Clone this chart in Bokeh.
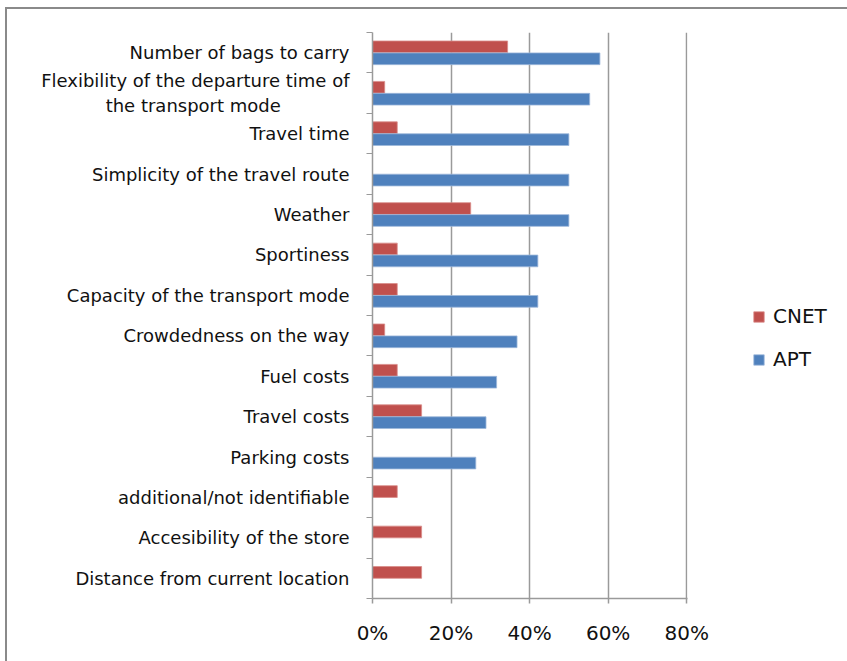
from bokeh.plotting import figure
from bokeh.models import (ColumnDataSource, FixedTicker, NumeralTickFormatter,
                          Legend, LegendItem, Range1d)
from bokeh.embed import file_html
from bokeh.resources import INLINE

categories = [
    "Number of bags to carry",
    "Flexibility of the departure time of\nthe transport mode" + "\u00a0" * 12,
    "Travel time",
    "Simplicity of the travel route",
    "Weather",
    "Sportiness",
    "Capacity of the transport mode",
    "Crowdedness on the way",
    "Fuel costs",
    "Travel costs",
    "Parking costs",
    "additional/not identifiable",
    "Accesibility of the store",
    "Distance from current location",
]
cnet = [0.344, 0.031, 0.063, 0.0, 0.25, 0.063, 0.063, 0.031, 0.063, 0.125, 0.0, 0.063, 0.125, 0.125]
apt = [0.579, 0.553, 0.50, 0.50, 0.50, 0.421, 0.421, 0.368, 0.316, 0.289, 0.263, 0.0, 0.0, 0.0]
x_ticks = [0, 0.2, 0.4, 0.6, 0.8]

n = len(categories)
centers = [n - 1 - i for i in range(n)]
bounds = [c - 0.5 for c in range(n + 1)]

src = ColumnDataSource(dict(
    y_c=[c + 0.145 for c in centers],
    y_a=[c - 0.15 for c in centers],
    cnet=cnet, apt=apt,
))

p = figure(frame_width=315, frame_height=566, output_backend="svg", toolbar_location=None,
           x_range=Range1d(0, 0.802), y_range=Range1d(-0.5, n - 0.5),
           min_border_left=365, min_border_right=10, min_border_top=23,
           min_border_bottom=63)
p.margin = (7, 0, 0, 5)
p.styles = {"border-left": "2px solid #8a8a8a", "border-top": "2px solid #8a8a8a"}
p.outline_line_color = None
p.background_fill_color = "white"
p.border_fill_color = "white"

r_c = p.hbar(y="y_c", right="cnet", left=0, height=0.29, source=src,
             fill_color="#C0504D", line_color="#D98B89", line_width=0.8)
r_a = p.hbar(y="y_a", right="apt", left=0, height=0.29, source=src,
             fill_color="#4F81BD", line_color="#9DB8DA", line_width=0.8)

# x axis
p.xaxis.ticker = FixedTicker(ticks=x_ticks)
p.xaxis.formatter = NumeralTickFormatter(format="0%")
p.xaxis.axis_line_color = "#9a9a9a"
p.xaxis.axis_line_width = 1.5
p.xaxis.major_tick_line_color = "#9a9a9a"
p.xaxis.major_tick_line_width = 1.5
p.xaxis.major_tick_out = 5
p.xaxis.major_tick_in = 0
p.xaxis.minor_tick_line_color = None
p.xaxis.major_label_text_font = "DejaVu Sans"
p.xaxis.major_label_text_font_size = "20px"
p.xaxis.major_label_text_color = "#111111"
p.xaxis.major_label_standoff = 17

# y axis
p.yaxis.ticker = FixedTicker(ticks=centers, minor_ticks=bounds)
p.yaxis.major_label_overrides = {c: categories[i] for i, c in enumerate(centers)}
p.yaxis.axis_line_color = "#9a9a9a"
p.yaxis.axis_line_width = 1.5
p.yaxis.major_tick_line_color = None
p.yaxis.major_tick_out = 0
p.yaxis.major_tick_in = 0
p.yaxis.minor_tick_line_color = "#9a9a9a"
p.yaxis.minor_tick_line_width = 1.2
p.yaxis.minor_tick_out = 6
p.yaxis.minor_tick_in = 0
p.yaxis.major_label_text_font = "DejaVu Sans"
p.yaxis.major_label_text_font_size = "18px"
p.yaxis.major_label_text_color = "#111111"
p.yaxis.major_label_standoff = 17

p.xgrid.grid_line_color = "#9a9a9a"
p.xgrid.grid_line_width = 1.5
p.ygrid.grid_line_color = None

legend = Legend(items=[LegendItem(label="CNET", renderers=[r_c]),
                       LegendItem(label="APT", renderers=[r_a])],
                location=(65, 227))
legend.label_text_font = "DejaVu Sans"
legend.label_text_font_size = "20px"
legend.label_text_color = "#111111"
legend.glyph_width = 13
legend.glyph_height = 13
legend.label_height = 20
legend.spacing = 19
legend.padding = 0
legend.margin = 0
legend.label_standoff = 8
legend.border_line_color = None
legend.background_fill_alpha = 0
p.add_layout(legend, "right")

open("out.html", "w").write(file_html(p, INLINE))
